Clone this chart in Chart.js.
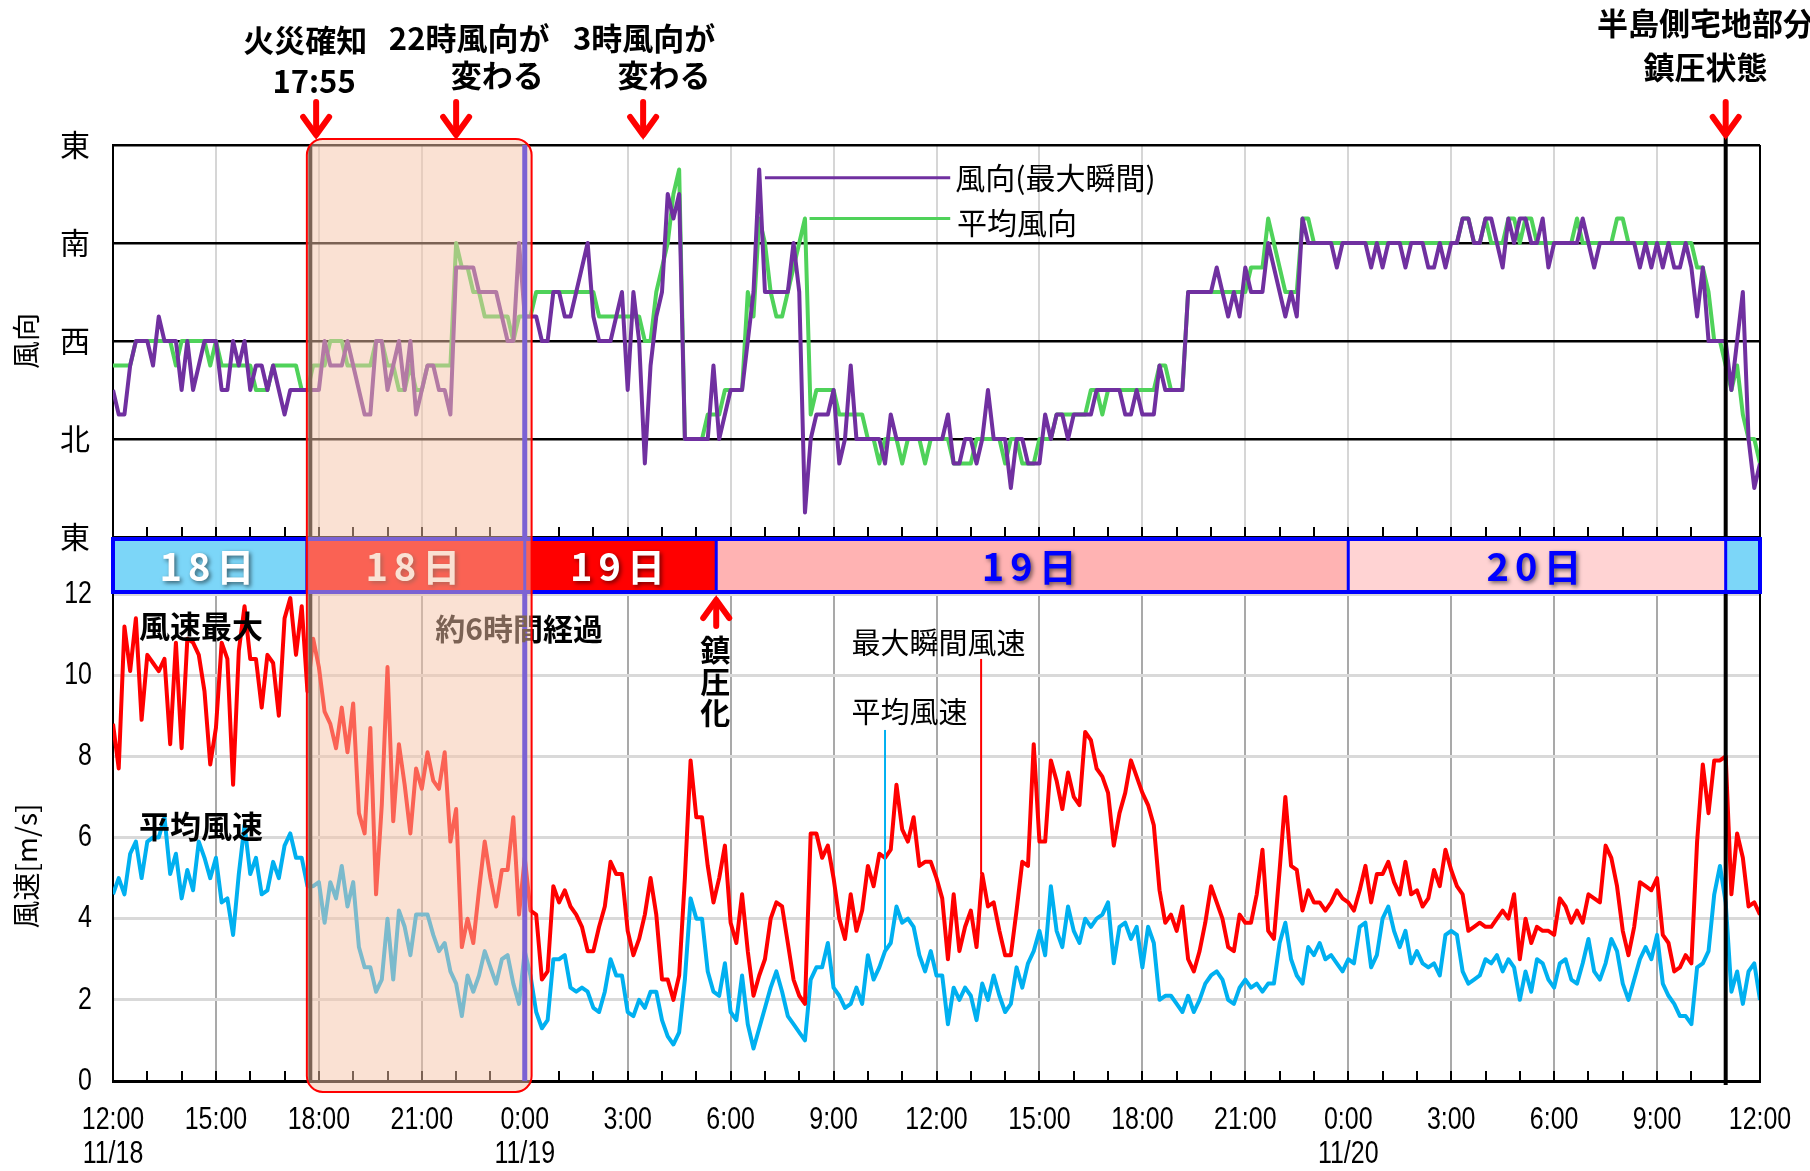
<!DOCTYPE html>
<html lang="ja">
<head>
<meta charset="utf-8">
<title>風向・風速の推移</title>
<script src="https://cdn.jsdelivr.net/npm/chart.js@4.4.1/dist/chart.umd.min.js"></script>
<style>
  html, body { margin: 0; padding: 0; background: #fff; }
  #wrap { width: 1810px; height: 1171px; }
</style>
</head>
<body>
<div id="wrap"><canvas id="c" width="1810" height="1171"></canvas></div>
<script>
// 10分値 11/18 12:00 〜 11/20 12:00（横軸は 11/18 12:00 からの経過時間）
const STEP_H = 1 / 6;

// 最大瞬間風速 [m/s]
const gustSpeed = [
  8.8, 7.7, 11.2, 10.1, 11.4, 8.9, 10.5, 10.3, 10.1, 10.4,
  8.3, 10.8, 8.2, 10.9, 10.8, 10.5, 9.6, 7.8, 8.7, 10.8,
  10.4, 7.3, 10.6, 11.7, 10.4, 10.4, 9.2, 10.5, 10.3, 9.0,
  11.4, 11.9, 10.5, 11.7, 9.6, 10.9, 10.2, 9.1, 8.8, 8.2,
  9.2, 8.1, 9.3, 6.6, 6.1, 8.7, 4.6, 6.8, 10.2, 6.4,
  8.3, 7.3, 6.1, 7.7, 7.2, 8.1, 7.4, 7.2, 8.1, 5.9,
  6.7, 3.3, 4.0, 3.4, 4.7, 5.9, 5.0, 4.3, 5.2, 5.2,
  6.5, 4.1, 5.5, 4.2, 4.1, 2.5, 2.7, 4.8, 4.4, 4.7,
  4.3, 4.1, 3.8, 3.2, 3.2, 3.8, 4.3, 5.4, 5.1, 5.1,
  3.7, 3.1, 3.5, 4.1, 5.0, 4.1, 2.5, 2.5, 2.0, 2.6,
  5.0, 7.9, 6.5, 6.5, 5.3, 4.4, 5.0, 5.8, 3.9, 3.4,
  4.6, 3.2, 2.1, 2.6, 3.0, 4.0, 4.4, 4.3, 3.4, 2.5,
  2.1, 1.9, 6.1, 6.1, 5.5, 5.8, 5.0, 4.0, 3.5, 4.6,
  3.7, 4.2, 5.3, 4.8, 5.6, 5.5, 5.7, 7.3, 6.2, 5.9,
  6.5, 5.3, 5.4, 5.4, 5.0, 4.5, 3.0, 4.6, 3.2, 3.8,
  4.2, 3.3, 5.1, 4.3, 4.4, 3.7, 3.1, 3.1, 4.2, 5.4,
  5.3, 8.3, 5.9, 5.9, 7.9, 7.4, 6.7, 7.6, 7.0, 6.8,
  8.6, 8.4, 7.7, 7.5, 7.1, 5.8, 6.6, 7.1, 7.9, 7.5,
  7.1, 6.8, 6.3, 4.7, 3.9, 4.1, 3.7, 4.3, 3.0, 2.7,
  3.2, 3.9, 4.8, 4.4, 4.0, 3.3, 3.2, 4.1, 3.9, 3.9,
  4.6, 5.7, 3.7, 3.5, 5.2, 7.0, 5.3, 5.2, 4.2, 4.7,
  4.4, 4.4, 4.2, 4.4, 4.7, 4.5, 4.4, 4.2, 4.7, 5.3,
  4.4, 5.1, 5.1, 5.4, 4.9, 4.6, 5.4, 4.6, 4.7, 4.3,
  4.5, 5.2, 4.8, 5.7, 5.2, 4.8, 4.6, 3.7, 3.8, 3.9,
  3.8, 3.8, 4.0, 4.2, 4.0, 4.6, 3.0, 4.0, 3.4, 3.8,
  3.7, 3.7, 3.6, 4.5, 4.3, 3.9, 4.2, 3.9, 4.6, 4.5,
  4.4, 5.8, 5.5, 4.8, 3.7, 3.1, 3.8, 4.9, 4.8, 4.7,
  5.0, 3.6, 3.4, 2.7, 2.8, 3.1, 2.9, 5.9, 7.8, 6.6,
  7.9, 7.9, 8.0, 4.6, 6.1, 5.5, 4.3, 4.4, 4.1
];

// 平均風速 [m/s]
const meanSpeed = [
  4.6, 5.0, 4.6, 5.6, 5.9, 5.0, 5.9, 6.0, 6.0, 6.5,
  5.1, 5.6, 4.5, 5.2, 4.7, 5.9, 5.5, 5.0, 5.5, 4.4,
  4.5, 3.6, 5.1, 6.3, 5.1, 5.5, 4.6, 4.7, 5.4, 5.0,
  5.8, 6.1, 5.5, 5.5, 4.8, 4.8, 4.9, 3.9, 4.9, 4.5,
  5.3, 4.3, 4.9, 3.3, 2.8, 2.8, 2.2, 2.5, 4.0, 2.5,
  4.2, 3.8, 3.1, 4.1, 4.1, 4.1, 3.6, 3.2, 3.4, 2.7,
  2.4, 1.6, 2.6, 2.2, 2.6, 3.2, 2.8, 2.4, 3.0, 3.1,
  2.4, 1.9, 3.2, 2.6, 1.7, 1.3, 1.5, 3.0, 3.0, 3.1,
  2.3, 2.2, 2.3, 2.2, 1.8, 1.7, 2.2, 3.0, 2.6, 2.6,
  1.7, 1.6, 2.0, 1.8, 2.2, 2.2, 1.5, 1.1, 0.9, 1.2,
  2.5, 4.5, 4.0, 4.0, 2.7, 2.2, 2.1, 2.9, 1.7, 1.5,
  2.6, 1.4, 0.8, 1.3, 1.8, 2.3, 2.7, 2.2, 1.6, 1.4,
  1.2, 1.0, 2.5, 2.8, 2.8, 3.4, 2.3, 2.1, 1.8, 1.9,
  2.3, 1.9, 3.1, 2.5, 2.8, 3.2, 3.4, 4.3, 3.9, 4.0,
  3.8, 3.1, 2.7, 3.2, 2.6, 2.6, 1.4, 2.3, 2.0, 2.3,
  2.1, 1.5, 2.4, 2.0, 2.6, 2.1, 1.7, 1.9, 2.8, 2.3,
  2.9, 3.2, 3.7, 3.1, 4.8, 3.7, 3.3, 4.3, 3.7, 3.4,
  4.0, 3.8, 4.0, 4.1, 4.4, 2.9, 3.8, 3.9, 3.5, 3.8,
  2.8, 3.8, 3.4, 2.0, 2.1, 2.1, 1.9, 1.7, 2.1, 1.7,
  2.0, 2.4, 2.6, 2.7, 2.5, 2.0, 1.9, 2.3, 2.5, 2.3,
  2.4, 2.2, 2.4, 2.4, 3.4, 3.9, 3.0, 2.6, 2.4, 3.3,
  3.1, 3.4, 3.0, 3.1, 2.9, 2.7, 3.0, 2.9, 3.8, 3.9,
  2.8, 3.1, 4.0, 4.3, 3.7, 3.3, 3.7, 2.9, 3.2, 2.9,
  2.8, 2.9, 2.6, 3.6, 3.7, 3.6, 2.7, 2.4, 2.5, 2.6,
  3.0, 2.9, 3.1, 2.7, 3.0, 2.8, 2.0, 2.7, 2.2, 3.0,
  2.9, 2.5, 2.3, 2.9, 3.0, 2.5, 2.4, 2.9, 3.5, 2.7,
  2.5, 2.9, 3.5, 3.2, 2.4, 2.0, 2.5, 3.0, 3.3, 3.0,
  3.6, 2.4, 2.1, 1.9, 1.6, 1.6, 1.4, 2.8, 2.9, 3.2,
  4.6, 5.3, 4.4, 2.2, 2.7, 1.9, 2.7, 2.9, 2.0
];

// 風向（最大瞬間） 16方位の角度 [度] 北=0
const dirGust = [
  315, 337.5, 337.5, 292.5, 270, 270, 270, 292.5, 247.5, 270,
  270, 270, 315, 270, 315, 292.5, 270, 270, 270, 315,
  315, 270, 292.5, 270, 315, 292.5, 292.5, 315, 292.5, 315,
  337.5, 315, 315, 315, 315, 315, 315, 270, 292.5, 292.5,
  292.5, 270, 292.5, 315, 337.5, 337.5, 270, 270, 315, 292.5,
  270, 315, 270, 337.5, 315, 292.5, 292.5, 315, 315, 337.5,
  202.5, 202.5, 202.5, 202.5, 225, 225, 225, 225, 247.5, 270,
  270, 180, 247.5, 247.5, 247.5, 270, 270, 225, 225, 247.5,
  247.5, 225, 202.5, 180, 247.5, 270, 270, 270, 247.5, 225,
  315, 225, 270, 22.5, 292.5, 247.5, 225, 135, 157.5, 135,
  0, 0, 0, 0, 0, 292.5, 0, 337.5, 315, 315,
  315, 270, 225, 112.5, 225, 225, 225, 225, 225, 180,
  225, 67.5, 0, 337.5, 337.5, 337.5, 315, 22.5, 0, 292.5,
  0, 0, 0, 0, 0, 22.5, 337.5, 0, 0, 0,
  0, 0, 0, 0, 0, 0, 337.5, 22.5, 22.5, 0,
  0, 22.5, 0, 315, 0, 0, 0, 45, 0, 0,
  22.5, 22.5, 22.5, 337.5, 0, 337.5, 337.5, 0, 337.5, 337.5,
  337.5, 337.5, 315, 315, 315, 315, 315, 337.5, 337.5, 315,
  337.5, 337.5, 337.5, 292.5, 315, 315, 315, 315, 225, 225,
  225, 225, 225, 202.5, 225, 247.5, 225, 247.5, 202.5, 225,
  225, 225, 180, 202.5, 225, 247.5, 225, 247.5, 157.5, 180,
  180, 180, 180, 180, 202.5, 180, 180, 180, 180, 180,
  202.5, 180, 202.5, 180, 180, 180, 202.5, 180, 180, 180,
  202.5, 202.5, 180, 202.5, 180, 180, 157.5, 157.5, 180, 180,
  157.5, 157.5, 180, 202.5, 157.5, 180, 157.5, 157.5, 180, 180,
  157.5, 202.5, 180, 180, 180, 180, 180, 157.5, 180, 202.5,
  180, 180, 180, 180, 180, 180, 180, 202.5, 180, 202.5,
  180, 202.5, 180, 202.5, 202.5, 180, 202.5, 247.5, 202.5, 270,
  270, 270, 270, 315, 270, 225, 0, 45, 22.5
];

// 平均風向 [度] 北=0
const dirMean = [
  292.5, 292.5, 292.5, 292.5, 270, 270, 270, 270, 270, 270,
  270, 292.5, 270, 270, 270, 270, 270, 292.5, 270, 292.5,
  292.5, 292.5, 292.5, 292.5, 292.5, 315, 315, 315, 292.5, 292.5,
  292.5, 292.5, 292.5, 315, 315, 292.5, 292.5, 292.5, 270, 270,
  270, 292.5, 292.5, 292.5, 292.5, 292.5, 270, 270, 292.5, 292.5,
  315, 315, 292.5, 315, 315, 292.5, 292.5, 292.5, 292.5, 292.5,
  180, 202.5, 202.5, 225, 225, 247.5, 247.5, 247.5, 247.5, 247.5,
  270, 247.5, 247.5, 247.5, 225, 225, 225, 225, 225, 225,
  225, 225, 225, 225, 225, 247.5, 247.5, 247.5, 247.5, 247.5,
  247.5, 247.5, 247.5, 270, 270, 225, 202.5, 180, 135, 112.5,
  0, 0, 0, 0, 337.5, 337.5, 337.5, 315, 315, 315,
  315, 225, 247.5, 157.5, 180, 225, 247.5, 247.5, 225, 202.5,
  180, 157.5, 337.5, 315, 315, 315, 315, 337.5, 337.5, 337.5,
  337.5, 337.5, 0, 0, 22.5, 0, 0, 0, 22.5, 0,
  0, 0, 22.5, 0, 0, 0, 0, 22.5, 22.5, 22.5,
  22.5, 0, 0, 0, 0, 0, 22.5, 0, 0, 22.5,
  22.5, 22.5, 0, 0, 0, 337.5, 337.5, 337.5, 337.5, 337.5,
  337.5, 315, 315, 337.5, 315, 315, 315, 315, 315, 315,
  315, 315, 315, 292.5, 292.5, 315, 315, 315, 225, 225,
  225, 225, 225, 225, 225, 225, 225, 225, 225, 202.5,
  202.5, 202.5, 157.5, 180, 202.5, 225, 225, 225, 157.5, 157.5,
  180, 180, 180, 180, 180, 180, 180, 180, 180, 180,
  180, 180, 180, 180, 180, 180, 180, 180, 180, 180,
  180, 180, 180, 180, 180, 180, 157.5, 157.5, 180, 180,
  157.5, 180, 180, 180, 157.5, 157.5, 180, 157.5, 157.5, 180,
  180, 180, 180, 180, 180, 180, 157.5, 180, 180, 180,
  180, 180, 180, 157.5, 157.5, 180, 180, 180, 180, 180,
  180, 180, 180, 180, 180, 180, 180, 202.5, 202.5, 225,
  270, 270, 292.5, 315, 292.5, 337.5, 0, 0, 22.5
];

// 縦軸の方位名（東→南→西→北→東）
const dirNames = { 90: '東', 180: '南', 270: '西', 360: '北', 450: '東' };

// 日付帯の区切り（経過時間 h）と表示
const dayEdges = [0, 5.65, 12, 17.58, 36, 47, 48];
const dayLabels = ['18日', '18日', '19日', '19日', '20日', ''];

// 出来事（経過時間 h）
const fireLineH = 5.75;    // 火災確知の縦線
const midnightH = 12;      // 11/19 0:00
const suppressedH = 47;    // 半島側宅地部分 鎮圧状態
const shadeRange = [5.65, 12.2];   // 約6時間経過
const suppressingH = 17.58;        // 鎮圧化

const JP = '"Noto Sans CJK JP", "Noto Sans", sans-serif';
const NUM = '"Liberation Sans", Arial, sans-serif';

const unwrap = d => (d < 90 ? d + 360 : d);
const xy = (arr, f = v => v) => arr.map((v, i) => ({ x: i * STEP_H, y: f(v) }));

function seg(ctx, x0, y0, x1, y1, color, w) {
  ctx.strokeStyle = color;
  ctx.lineWidth = w;
  ctx.beginPath();
  ctx.moveTo(x0, y0);
  ctx.lineTo(x1, y1);
  ctx.stroke();
}

function txt(ctx, s, px, py, font, color, align = 'left') {
  ctx.font = font;
  ctx.fillStyle = color;
  ctx.textAlign = align;
  ctx.textBaseline = 'middle';
  ctx.fillText(s, px, py);
}

// 細長い数字（元図の縦長フォントに寄せる）
function narrow(ctx, s, px, py, align) {
  ctx.save();
  ctx.translate(px, py);
  ctx.scale(0.78, 1);
  txt(ctx, s, 0, 0, '32px ' + NUM, '#000', align);
  ctx.restore();
}

function arrow(ctx, px, yTail, yTip) {
  const dir = yTip > yTail ? 1 : -1;
  ctx.strokeStyle = '#ff0000';
  ctx.fillStyle = '#ff0000';
  ctx.lineCap = 'round';
  ctx.lineJoin = 'round';
  ctx.lineWidth = 6;
  ctx.beginPath();
  ctx.moveTo(px, yTail);
  ctx.lineTo(px, yTip - dir * 8);
  ctx.stroke();
  ctx.beginPath();
  ctx.moveTo(px - 13, yTip - dir * 23);
  ctx.lineTo(px, yTip - dir * 5);
  ctx.lineTo(px + 13, yTip - dir * 23);
  ctx.stroke();
  ctx.beginPath();
  ctx.moveTo(px - 7, yTip - dir * 13);
  ctx.lineTo(px, yTip);
  ctx.lineTo(px + 7, yTip - dir * 13);
  ctx.closePath();
  ctx.fill();
  ctx.lineCap = 'butt';
}

function roundRect(ctx, x, y, w, h, r) {
  ctx.beginPath();
  ctx.moveTo(x + r, y);
  ctx.arcTo(x + w, y, x + w, y + h, r);
  ctx.arcTo(x + w, y + h, x, y + h, r);
  ctx.arcTo(x, y + h, x, y, r);
  ctx.arcTo(x, y, x + w, y, r);
  ctx.closePath();
}

const clock = v => {
  const hh = (12 + v) % 24;
  const date = { 0: '11/18', 12: '11/19', 36: '11/20' }[v] || '';
  return [hh + ':00', date];
};

const decorations = {
  id: 'decorations',
  beforeDraw(chart) {
    const { ctx, scales: { x, yDir, ySpd } } = chart;
    ctx.save();
    for (let h = 3; h < 48; h += 3) {
      const px = Math.round(x.getPixelForValue(h));
      seg(ctx, px, yDir.top, px, yDir.bottom, '#d6d6d6', 2);
      seg(ctx, px, ySpd.top, px, ySpd.bottom, '#a9a9a9', 2);
    }
    ctx.restore();
  },
  afterDatasetsDraw(chart) {
    const { ctx, chartArea, scales: { x, yDir, yDay, ySpd } } = chart;
    const X = h => x.getPixelForValue(h);
    ctx.save();

    // 時間の小目盛
    for (let h = 1; h < 48; h++) {
      const px = Math.round(X(h));
      seg(ctx, px, yDir.bottom, px, yDir.bottom - 10, '#000', 2);
      seg(ctx, px, ySpd.bottom, px, ySpd.bottom - 10, '#000', 2);
    }
    // 右枠
    seg(ctx, chartArea.right, yDir.top, chartArea.right, ySpd.bottom, '#000', 2);

    // 目盛ラベル（横軸・風速軸）
    x.ticks.forEach(t => {
      const [hm, date] = clock(t.value);
      narrow(ctx, hm, X(t.value), ySpd.bottom + 39, 'center');
      if (date) narrow(ctx, date, X(t.value), ySpd.bottom + 73, 'center');
    });
    ySpd.ticks.forEach(t => {
      narrow(ctx, String(t.value), chartArea.left - 21, ySpd.getPixelForValue(t.value), 'right');
    });

    // 縦の区切り線
    seg(ctx, X(fireLineH), yDir.top, X(fireLineH), ySpd.bottom, '#000', 4);
    seg(ctx, X(midnightH), yDir.top, X(midnightH), ySpd.bottom, '#0000ff', 5);
    seg(ctx, X(suppressedH), yDir.top - 8, X(suppressedH), ySpd.bottom + 4, '#000', 4);

    // 日付帯
    const fills = ['#7cd6f8', '#ff0000', '#ff0000', '#ffb3b3', '#ffd3d3', '#7cd6f8'];
    const inks = ['#ffffff', '#ffffff', '#ffffff', '#0000ff', '#0000ff', '#0000ff'];
    const bt = yDay.top + 2, bb = yDay.bottom - 2;
    for (let k = 0; k < dayLabels.length; k++) {
      const x0 = X(dayEdges[k]), x1 = X(dayEdges[k + 1]);
      ctx.fillStyle = fills[k];
      ctx.fillRect(x0, bt, x1 - x0, bb - bt);
    }
    for (let k = 1; k < dayEdges.length - 1; k++) {
      seg(ctx, X(dayEdges[k]), bt, X(dayEdges[k]), bb, '#0000ff', 3);
    }
    ctx.strokeStyle = '#0000ff';
    ctx.lineWidth = 4;
    ctx.strokeRect(X(0), bt, X(48) - X(0), bb - bt);
    ctx.save();
    ctx.shadowColor = 'rgba(0,0,0,0.55)';
    ctx.shadowBlur = 4;
    ctx.shadowOffsetX = 2;
    ctx.shadowOffsetY = 2;
    ctx.letterSpacing = '6px';
    for (let k = 0; k < dayLabels.length; k++) {
      if (!dayLabels[k]) continue;
      const cx = (X(dayEdges[k]) + X(dayEdges[k + 1])) / 2;
      txt(ctx, dayLabels[k], cx, (bt + bb) / 2 + 1, 'bold 38px ' + JP, inks[k], 'center');
    }
    ctx.restore();

    // 網掛けの下に入る文字
    txt(ctx, '約6時間経過', X(9.39), ySpd.getPixelForValue(11.15), 'bold 30px ' + JP, '#000');

    // 約6時間の網掛け
    const sx0 = X(shadeRange[0]), sx1 = X(shadeRange[1]);
    roundRect(ctx, sx0, yDir.top - 6, sx1 - sx0, ySpd.bottom + 11 - (yDir.top - 6), 16);
    ctx.fillStyle = 'rgba(245,196,167,0.5)';
    ctx.fill();
    ctx.strokeStyle = '#ff0000';
    ctx.lineWidth = 2;
    ctx.stroke();

    // 凡例の引き出し線
    const idx = h => Math.round(h / STEP_H);
    seg(ctx, X(19.0), yDir.getPixelForValue(120), X(24.4), yDir.getPixelForValue(120), '#7030a0', 3);
    txt(ctx, '風向(最大瞬間)', X(24.55), yDir.getPixelForValue(120), '30px ' + JP, '#000');
    seg(ctx, X(20.3), yDir.getPixelForValue(157.5), X(24.4), yDir.getPixelForValue(157.5), '#4fd25a', 3);
    txt(ctx, '平均風向', X(24.6), yDir.getPixelForValue(161), '30px ' + JP, '#000');

    seg(ctx, X(25.3), ySpd.getPixelForValue(10.4), X(25.3), ySpd.getPixelForValue(gustSpeed[idx(25.3)]), '#ff0000', 2);
    txt(ctx, '最大瞬間風速', X(21.52), ySpd.getPixelForValue(10.8), '29px ' + JP, '#000');
    seg(ctx, X(22.5), ySpd.getPixelForValue(8.65), X(22.5), ySpd.getPixelForValue(meanSpeed[idx(22.5)]), '#00b0f0', 2);
    txt(ctx, '平均風速', X(21.52), ySpd.getPixelForValue(9.1), '29px ' + JP, '#000');

    txt(ctx, '風速最大', X(0.76), ySpd.getPixelForValue(11.2), 'bold 31px ' + JP, '#000');
    txt(ctx, '平均風速', X(0.76), ySpd.getPixelForValue(6.28), 'bold 31px ' + JP, '#000');

    // 鎮圧化
    const cxS = X(suppressingH);
    arrow(ctx, cxS, ySpd.top + 32, ySpd.top + 1);
    ['鎮', '圧', '化'].forEach((c, k) => {
      txt(ctx, c, cxS - 1, ySpd.getPixelForValue(10.62 - k * 0.77), 'bold 30px ' + JP, '#000', 'center');
    });

    // 上部の注記と矢印
    const top = chartArea.top;
    const notes = [
      { h: 5.6, dy: -105, s: '火災確知' },
      { h: 5.86, dy: -64, s: '17:55' },
      { h: 10.38, dy: -107, s: '22時風向が' },
      { h: 11.2, dy: -70, s: '変わる' },
      { h: 15.48, dy: -107, s: '3時風向が' },
      { h: 16.06, dy: -70, s: '変わる' },
      { h: 46.41, dy: -122, s: '半島側宅地部分' },
      { h: 46.41, dy: -78, s: '鎮圧状態' }
    ];
    notes.forEach(n => txt(ctx, n.s, X(n.h), top + n.dy, 'bold 31px ' + JP, '#000', 'center'));
    [5.92, 10, 15.45, suppressedH].forEach(h => arrow(ctx, X(h), top - 43, top - 5));

    // 軸タイトル
    ctx.save();
    ctx.translate(26, (yDir.top + yDir.bottom) / 2);
    ctx.rotate(-Math.PI / 2);
    txt(ctx, '風向', 0, 0, '28px ' + JP, '#000', 'center');
    ctx.restore();
    ctx.save();
    ctx.translate(26, ySpd.getPixelForValue(5.3));
    ctx.rotate(-Math.PI / 2);
    txt(ctx, '風速[m/s]', 0, 0, '28px ' + JP, '#000', 'center');
    ctx.restore();

    ctx.restore();
  }
};

new Chart(document.getElementById('c'), {
  type: 'line',
  data: {
    datasets: [
      { label: '風向(最大瞬間)', data: xy(dirGust, unwrap), yAxisID: 'yDir', borderColor: '#7030a0', borderWidth: 4 },
      { label: '平均風向', data: xy(dirMean, unwrap), yAxisID: 'yDir', borderColor: '#4fd25a', borderWidth: 4 },
      { label: '最大瞬間風速', data: xy(gustSpeed), yAxisID: 'ySpd', borderColor: '#ff0000', borderWidth: 4 },
      { label: '平均風速', data: xy(meanSpeed), yAxisID: 'ySpd', borderColor: '#00b0f0', borderWidth: 4 }
    ]
  },
  options: {
    responsive: false,
    animation: false,
    devicePixelRatio: 1,
    layout: { padding: { top: 145, right: 50, bottom: 0, left: 0 } },
    elements: {
      point: { radius: 0, hoverRadius: 0 },
      line: { tension: 0, fill: false, borderJoinStyle: 'round' }
    },
    plugins: { legend: { display: false }, tooltip: { enabled: false } },
    scales: {
      x: {
        type: 'linear',
        min: 0,
        max: 48,
        afterFit(s) { s.height = 90; s.paddingLeft = 0; s.paddingRight = 0; },
        grid: { display: false, drawTicks: false },
        border: { display: true, color: '#000', width: 3 },
        ticks: { stepSize: 3, autoSkip: false, maxRotation: 0, display: false }
      },
      ySpd: {
        type: 'linear',
        position: 'left',
        stack: 'v',
        stackWeight: 487,
        min: 0,
        max: 12,
        afterFit(s) { s.width = 113; },
        grid: { color: '#d9d9d9', lineWidth: 3, drawTicks: false },
        border: { color: '#000', width: 2 },
        ticks: { stepSize: 2, display: false }
      },
      yDay: {
        type: 'linear',
        position: 'left',
        stack: 'v',
        stackWeight: 57,
        min: 0,
        max: 1,
        afterFit(s) { s.width = 113; },
        grid: { display: false, drawTicks: false },
        border: { display: false },
        ticks: { display: false }
      },
      yDir: {
        type: 'linear',
        position: 'left',
        stack: 'v',
        stackWeight: 392,
        reverse: true,
        min: 90,
        max: 450,
        afterFit(s) { s.width = 113; s.paddingTop = 0; s.paddingBottom = 0; },
        grid: {
          color: c => (c.tick.value % 90 === 0 ? '#000' : '#c4c4c4'),
          lineWidth: c => (c.tick.value % 90 === 0 ? 2.5 : 3),
          drawTicks: false
        },
        border: { color: '#000', width: 2 },
        ticks: {
          stepSize: 45,
          padding: 23,
          color: '#000',
          font: { family: JP, size: 30 },
          callback: v => dirNames[v] || ''
        }
      }
    }
  },
  plugins: [decorations]
});
</script>
</body>
</html>
